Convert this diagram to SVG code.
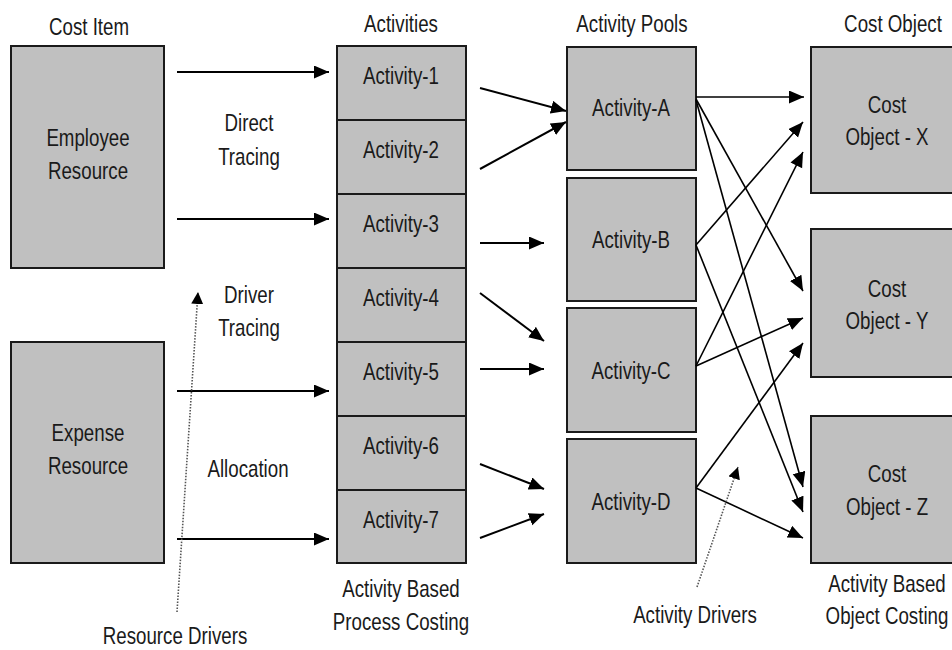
<svg xmlns="http://www.w3.org/2000/svg" width="952" height="650" viewBox="0 0 952 650">
<defs>
<style>
.box{fill:#c0c0c0;stroke:#1a1a1a;stroke-width:2}
text{font-family:"Liberation Sans",Arial,sans-serif;font-size:24px;fill:#1a1a1a;text-anchor:middle;transform-box:fill-box;transform-origin:center;transform:scaleX(0.78)}
.ln{stroke:#000;stroke-width:2;fill:none}
.ln2{stroke:#000;stroke-width:1.6;fill:none}
.dot{stroke:#555;stroke-width:1.6;stroke-dasharray:1.5,1.5;fill:none}
</style>
<marker id="ah" markerUnits="userSpaceOnUse" markerWidth="16" markerHeight="14" refX="15" refY="6.5" orient="auto">
<path d="M0,0 L15,6.5 L0,13 z" fill="#000"/>
</marker>
<marker id="ahs" markerUnits="userSpaceOnUse" markerWidth="14" markerHeight="14" refX="12" refY="6" orient="auto">
<path d="M0,0 L12,6 L0,12 z" fill="#000"/>
</marker>
</defs>
<rect width="952" height="650" fill="#fff"/>

<g id="headers">
<text x="89" y="35">Cost Item</text>
<text x="401" y="32">Activities</text>
<text x="632" y="32">Activity Pools</text>
<text x="893" y="32">Cost Object</text>
</g>

<g id="employee-resource">
<rect class="box" x="11" y="46" width="153" height="222"/>
<text x="88" y="146">Employee</text>
<text x="88" y="179">Resource</text>
</g>
<g id="expense-resource">
<rect class="box" x="11" y="342" width="153" height="221"/>
<text x="88" y="441">Expense</text>
<text x="88" y="474">Resource</text>
</g>

<g id="activity-1"><rect class="box" x="337" y="46" width="129" height="74"/><text x="401" y="84">Activity-1</text></g>
<g id="activity-2"><rect class="box" x="337" y="120" width="129" height="74"/><text x="401" y="158">Activity-2</text></g>
<g id="activity-3"><rect class="box" x="337" y="194" width="129" height="74"/><text x="401" y="232">Activity-3</text></g>
<g id="activity-4"><rect class="box" x="337" y="268" width="129" height="74"/><text x="401" y="306">Activity-4</text></g>
<g id="activity-5"><rect class="box" x="337" y="342" width="129" height="74"/><text x="401" y="380">Activity-5</text></g>
<g id="activity-6"><rect class="box" x="337" y="416" width="129" height="74"/><text x="401" y="454">Activity-6</text></g>
<g id="activity-7"><rect class="box" x="337" y="490" width="129" height="73"/><text x="401" y="528">Activity-7</text></g>

<g id="activity-a"><rect class="box" x="567" y="47" width="129" height="123"/><text x="631" y="116">Activity-A</text></g>
<g id="activity-b"><rect class="box" x="567" y="178" width="129" height="123"/><text x="631" y="248">Activity-B</text></g>
<g id="activity-c"><rect class="box" x="567" y="308" width="129" height="124"/><text x="631" y="379">Activity-C</text></g>
<g id="activity-d"><rect class="box" x="567" y="439" width="129" height="124"/><text x="631" y="510">Activity-D</text></g>

<g id="cost-object-x"><rect class="box" x="811" y="47" width="150" height="146"/><text x="887" y="113">Cost</text><text x="887" y="145">Object - X</text></g>
<g id="cost-object-y"><rect class="box" x="811" y="229" width="150" height="148"/><text x="887" y="297">Cost</text><text x="887" y="329">Object - Y</text></g>
<g id="cost-object-z"><rect class="box" x="811" y="416" width="150" height="147"/><text x="887" y="482">Cost</text><text x="887" y="515">Object - Z</text></g>

<g id="labels">
<text x="249" y="131">Direct</text>
<text x="249" y="165">Tracing</text>
<text x="249" y="303">Driver</text>
<text x="249" y="336">Tracing</text>
<text x="248" y="477">Allocation</text>
<text x="175" y="644">Resource Drivers</text>
<text x="401" y="597">Activity Based</text>
<text x="401" y="630">Process Costing</text>
<text x="695" y="623">Activity Drivers</text>
<text x="887" y="592">Activity Based</text>
<text x="887" y="624">Object Costing</text>
</g>

<g id="connectors">
<line class="ln" x1="177" y1="72" x2="329" y2="72" marker-end="url(#ah)"/>
<line class="ln" x1="177" y1="219" x2="329" y2="219" marker-end="url(#ah)"/>
<line class="ln" x1="177" y1="391" x2="329" y2="391" marker-end="url(#ah)"/>
<line class="ln" x1="177" y1="539" x2="329" y2="539" marker-end="url(#ah)"/>

<line class="ln" x1="480" y1="88" x2="566" y2="111" marker-end="url(#ah)"/>
<line class="ln" x1="480" y1="169" x2="566" y2="122" marker-end="url(#ah)"/>
<line class="ln" x1="480" y1="243" x2="544" y2="243" marker-end="url(#ah)"/>
<line class="ln" x1="480" y1="293" x2="544" y2="341" marker-end="url(#ah)"/>
<line class="ln" x1="480" y1="369" x2="544" y2="369" marker-end="url(#ah)"/>
<line class="ln" x1="480" y1="464" x2="544" y2="489" marker-end="url(#ah)"/>
<line class="ln" x1="480" y1="538" x2="544" y2="514" marker-end="url(#ah)"/>

<line class="ln2" x1="696" y1="97" x2="804" y2="97" marker-end="url(#ah)"/>
<line class="ln2" x1="696" y1="99" x2="803" y2="291" marker-end="url(#ah)"/>
<line class="ln2" x1="696" y1="100" x2="803" y2="487" marker-end="url(#ah)"/>
<line class="ln2" x1="696" y1="245" x2="803" y2="122" marker-end="url(#ah)"/>
<line class="ln2" x1="696" y1="245" x2="803" y2="512" marker-end="url(#ah)"/>
<line class="ln2" x1="696" y1="366" x2="803" y2="152" marker-end="url(#ah)"/>
<line class="ln2" x1="696" y1="366" x2="803" y2="318" marker-end="url(#ah)"/>
<line class="ln2" x1="696" y1="488" x2="803" y2="343" marker-end="url(#ah)"/>
<line class="ln2" x1="696" y1="488" x2="803" y2="538" marker-end="url(#ah)"/>

<line class="dot" x1="177" y1="612" x2="198" y2="292" marker-end="url(#ahs)"/>
<line class="dot" x1="697" y1="587" x2="738" y2="467" marker-end="url(#ahs)"/>
</g>
</svg>
